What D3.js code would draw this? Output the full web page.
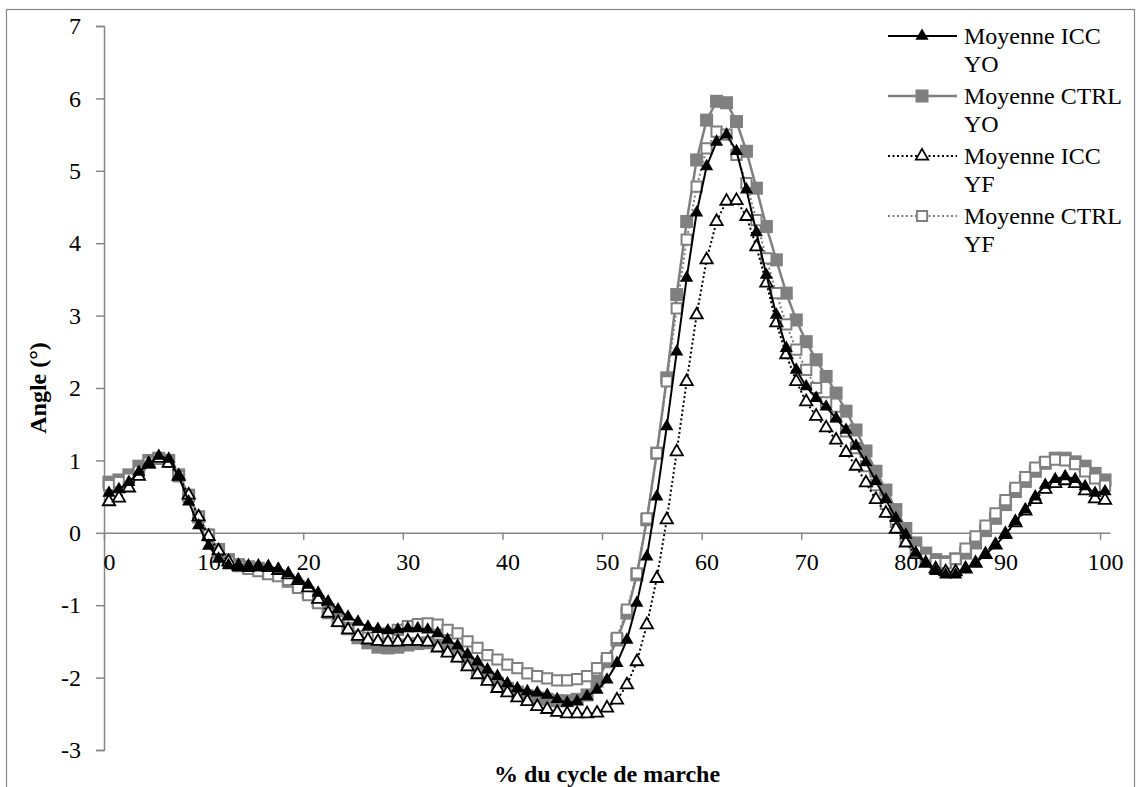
<!DOCTYPE html>
<html>
<head>
<meta charset="utf-8">
<script src="https://cdn.jsdelivr.net/npm/d3@7"></script>
<style>
  text { font-family: "Liberation Serif"; }
</style>
</head>
<body style="margin:0">
<svg id="chart" width="1141" height="787" font-family="Liberation Serif"></svg>
<script>
// ---- data ----
const seriesNames = ["Moyenne ICC YO", "Moyenne CTRL YO", "Moyenne ICC YF", "Moyenne CTRL YF"];
const legendLines = [["Moyenne ICC", "YO"], ["Moyenne CTRL", "YO"], ["Moyenne ICC", "YF"], ["Moyenne CTRL", "YF"]];
const xTickValues = [0, 10, 20, 30, 40, 50, 60, 70, 80, 90, 100];
const yTickValues = [-3, -2, -1, 0, 1, 2, 3, 4, 5, 6, 7];
const xTitle = "% du cycle de marche";
const yTitle = "Angle (°)";

const iccYO = [0.55,0.6,0.7,0.84,0.95,1.06,1.02,0.78,0.43,0.1,
  -0.18,-0.36,-0.45,-0.48,-0.49,-0.48,-0.47,-0.5,-0.56,-0.65,
  -0.72,-0.83,-0.95,-1.06,-1.16,-1.23,-1.3,-1.33,-1.35,-1.34,
  -1.32,-1.32,-1.34,-1.39,-1.48,-1.56,-1.68,-1.78,-1.89,-1.98,
  -2.08,-2.15,-2.19,-2.21,-2.24,-2.3,-2.35,-2.33,-2.26,-2.17,
  -2.03,-1.8,-1.48,-0.97,-0.33,0.5,1.47,2.5,3.52,4.42,
  5.06,5.4,5.5,5.27,4.74,4.15,3.56,3.01,2.55,2.25,
  2.02,1.86,1.74,1.58,1.42,1.2,0.97,0.71,0.46,0.2,
  -0.03,-0.28,-0.42,-0.53,-0.58,-0.58,-0.49,-0.42,-0.3,-0.17,
  -0.03,0.16,0.32,0.5,0.66,0.74,0.78,0.74,0.64,0.55,0.57];
const ctrlYO = [0.7,0.73,0.8,0.92,1.0,1.03,1.0,0.8,0.52,0.22,
  -0.03,-0.23,-0.37,-0.44,-0.47,-0.49,-0.56,-0.59,-0.67,-0.74,
  -0.83,-0.95,-1.06,-1.2,-1.32,-1.45,-1.52,-1.58,-1.59,-1.58,
  -1.55,-1.53,-1.52,-1.55,-1.62,-1.7,-1.8,-1.9,-2.0,-2.08,
  -2.15,-2.2,-2.25,-2.28,-2.3,-2.32,-2.32,-2.3,-2.24,-2.05,
  -1.78,-1.48,-1.11,-0.58,0.18,1.1,2.14,3.29,4.3,5.15,
  5.7,5.96,5.94,5.68,5.27,4.76,4.23,3.77,3.31,2.94,
  2.64,2.39,2.16,1.93,1.68,1.42,1.13,0.85,0.59,0.32,
  0.06,-0.14,-0.28,-0.37,-0.4,-0.36,-0.28,-0.14,0.03,0.2,
  0.39,0.57,0.71,0.85,0.96,1.03,1.03,0.98,0.92,0.82,0.73];
const iccYF = [0.43,0.48,0.62,0.78,0.95,1.03,0.96,0.78,0.52,0.22,
  -0.05,-0.25,-0.4,-0.46,-0.47,-0.47,-0.48,-0.52,-0.58,-0.66,
  -0.76,-0.92,-1.11,-1.24,-1.34,-1.43,-1.48,-1.5,-1.51,-1.51,
  -1.5,-1.5,-1.51,-1.59,-1.66,-1.73,-1.85,-1.96,-2.05,-2.15,
  -2.21,-2.28,-2.33,-2.4,-2.44,-2.48,-2.5,-2.5,-2.5,-2.49,
  -2.42,-2.31,-2.1,-1.78,-1.27,-0.63,0.18,1.12,2.09,3.01,
  3.77,4.3,4.58,4.59,4.37,3.95,3.45,2.9,2.46,2.09,
  1.81,1.61,1.45,1.28,1.11,0.92,0.69,0.46,0.27,0.05,
  -0.14,-0.3,-0.42,-0.5,-0.54,-0.54,-0.5,-0.42,-0.3,-0.17,
  -0.02,0.14,0.3,0.46,0.6,0.68,0.72,0.68,0.58,0.47,0.45];
const ctrlYF = [0.66,0.7,0.75,0.85,0.97,1.02,0.98,0.78,0.5,0.22,
  -0.03,-0.27,-0.4,-0.46,-0.5,-0.53,-0.57,-0.6,-0.65,-0.76,
  -0.86,-0.97,-1.11,-1.22,-1.33,-1.43,-1.45,-1.43,-1.39,-1.34,
  -1.29,-1.26,-1.25,-1.27,-1.34,-1.39,-1.5,-1.59,-1.69,-1.75,
  -1.82,-1.87,-1.94,-1.98,-2.01,-2.04,-2.04,-2.02,-1.98,-1.87,
  -1.73,-1.45,-1.06,-0.56,0.2,1.1,2.09,3.1,4.05,4.78,
  5.31,5.54,5.5,5.22,4.83,4.32,3.79,3.31,2.88,2.53,
  2.25,2.0,1.8,1.6,1.4,1.17,0.92,0.66,0.4,0.15,
  -0.08,-0.25,-0.36,-0.42,-0.42,-0.36,-0.22,-0.05,0.1,0.27,
  0.45,0.62,0.77,0.9,0.98,1.01,1.0,0.95,0.85,0.75,0.65];

// ---- chart ----
const FONT = "Liberation Serif";
const svg = d3.select("#chart");
const axisColor = "#868686";
const grey = "#808080";

// outer frame
svg.append("rect").attr("x", 6.5).attr("y", 9.5).attr("width", 1128).attr("height", 790)
  .attr("fill", "#fff").attr("stroke", axisColor).attr("stroke-width", 1.2);

const x = d3.scaleLinear().domain([0, 101]).range([104, 1110]);
const y = d3.scaleLinear().domain([-3, 7]).range([750, 26]);

// y axis
const yAxis = d3.axisLeft(y).tickValues(yTickValues).tickSize(8).tickPadding(15).tickFormat(d3.format("d"));
const gy = svg.append("g").attr("transform", `translate(${x(0)},0)`).call(yAxis)
  .attr("font-family", FONT).attr("font-size", 24);
gy.select(".domain").attr("stroke", axisColor).attr("stroke-width", 1.5);
gy.selectAll(".tick line").attr("stroke", axisColor).attr("stroke-width", 1.5);
gy.selectAll(".tick text").attr("fill", "#000").attr("font-family", FONT)
  .text(d => d < 0 ? "-" + Math.abs(d) : d);

// x axis (crosses at y=0)
const half = x(0.5) - x(0);
const xAxis = d3.axisBottom(x).tickValues(xTickValues).tickSize(7).tickPadding(13).tickFormat(d3.format("d"))
  .tickSizeOuter(0);
const gx = svg.append("g").attr("transform", `translate(0,${y(0)})`).call(xAxis)
  .attr("font-family", FONT).attr("font-size", 24);
gx.select(".domain").attr("stroke", axisColor).attr("stroke-width", 1.5);
gx.selectAll(".tick line").attr("stroke", axisColor).attr("stroke-width", 1.5);
gx.selectAll(".tick text").attr("fill", "#000").attr("x", half).attr("font-family", FONT);

// axis titles
svg.append("text").attr("x", (x(0) + x(101)) / 2).attr("y", 782).attr("text-anchor", "middle")
  .attr("font-family", FONT).attr("font-size", 24).attr("font-weight", "bold").text(xTitle);
svg.append("text").attr("transform", `translate(46,${(y(7) + y(-3)) / 2}) rotate(-90)`)
  .attr("text-anchor", "middle")
  .attr("font-family", FONT).attr("font-size", 24).attr("font-weight", "bold").text(yTitle);

// series definitions
const styles = [
  { data: iccYO, color: "#000", width: 2, dash: null, sym: d3.symbolTriangle, size: 75, fill: "#000", mstroke: "none", msw: 0 },
  { data: ctrlYO, color: grey, width: 2.5, dash: null, sym: d3.symbolSquare, size: 170, fill: grey, mstroke: "none", msw: 0 },
  { data: iccYF, color: "#000", width: 2, dash: "2,2.5", sym: d3.symbolTriangle, size: 66, fill: "#fff", mstroke: "#000", msw: 1.8 },
  { data: ctrlYF, color: grey, width: 2, dash: "2,2.5", sym: d3.symbolSquare, size: 105, fill: "#fff", mstroke: grey, msw: 2 }
];

const line = d3.line().x((d, i) => x(i + 0.5)).y(d => y(d));
const drawOrder = [1, 3, 2, 0];
drawOrder.forEach(k => {
  const s = styles[k];
  const g = svg.append("g");
  g.append("path").datum(s.data).attr("d", line).attr("fill", "none")
    .attr("stroke", s.color).attr("stroke-width", s.width)
    .attr("stroke-dasharray", s.dash);
  g.selectAll("path.m").data(s.data).join("path").attr("class", "m")
    .attr("transform", (d, i) => `translate(${x(i + 0.5)},${y(d)})`)
    .attr("d", d3.symbol().type(s.sym).size(s.size))
    .attr("fill", s.fill).attr("stroke", s.mstroke).attr("stroke-width", s.msw);
});

// legend
const lg = svg.append("g").attr("font-family", FONT).attr("font-size", 24);
styles.forEach((s, k) => {
  const cy = 36 + k * 60;
  lg.append("line").attr("x1", 888).attr("x2", 957).attr("y1", cy).attr("y2", cy)
    .attr("stroke", s.color).attr("stroke-width", s.width).attr("stroke-dasharray", s.dash);
  lg.append("path").attr("transform", `translate(922,${cy})`)
    .attr("d", d3.symbol().type(s.sym).size(s.size))
    .attr("fill", s.fill).attr("stroke", s.mstroke).attr("stroke-width", s.msw);
  legendLines[k].forEach((t, j) => {
    lg.append("text").attr("x", 964).attr("y", cy + 8 + j * 28)
      .attr("font-family", FONT).text(t);
  });
});
</script>
</body>
</html>
